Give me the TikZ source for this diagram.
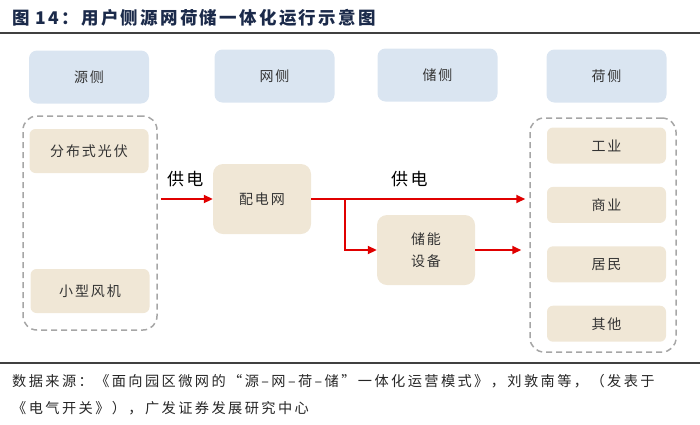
\documentclass[tikz,border=0pt]{standalone}
\usepackage{fontspec}
\setmainfont{Noto Sans CJK SC}
\newfontfamily\cjkwide[LetterSpace=14]{Noto Sans CJK SC}
\newfontfamily\cjktitle[LetterSpace=13]{Noto Sans CJK SC}
\newfontfamily\cjknote[LetterSpace=17]{Noto Sans CJK SC}
\usetikzlibrary{arrows.meta, positioning, calc}
\definecolor{headblue}{HTML}{DAE5F1}
\definecolor{itembeige}{HTML}{F0E7D6}
\definecolor{dashgray}{HTML}{A6A6A6}
\definecolor{flowred}{HTML}{E00000}
\definecolor{titlenavy}{HTML}{1B2A4A}
\definecolor{textgray}{HTML}{333333}

\begin{document}
\begin{tikzpicture}[
    x=1pt, y=-1pt,
    node distance=23pt,
    head/.style={rectangle, fill=headblue, rounded corners=8pt, minimum width=120pt, minimum height=53pt, align=center, text=textgray, font=\cjkwide\fontsize{14}{22}\selectfont},
    item/.style={rectangle, fill=itembeige, rounded corners=6pt, minimum width=119pt, minimum height=36pt, align=center, text=textgray, font=\cjkwide\fontsize{14}{22}\selectfont},
    hub/.style={item, minimum width=98pt, minimum height=70pt, rounded corners=10pt},
    group/.style={rectangle, draw=dashgray, dash pattern=on 6pt off 4pt, line width=1.5pt, rounded corners=14pt},
    flow/.style={-{Triangle[length=9pt, width=8pt]}, draw=flowred, line width=1.9pt},
    tag/.style={text=black, font=\cjkwide\fontsize{17}{20}\selectfont},
    note/.style={anchor=west, inner sep=0pt, text=black!85, font=\cjknote\fontsize{14.2}{16}\selectfont}
]
\useasboundingbox (0,0) rectangle (700,424);

% title and rules
\node[anchor=west, inner sep=0pt, text=titlenavy, font=\cjktitle\bfseries\fontsize{17.5}{20}\selectfont] (title) at (12,18) {图\hspace{6pt}14：用户侧源网荷储一体化运行示意图};
\draw[line width=1.8pt, black!75] (0,33) -- (700,33);
\draw[line width=1.8pt, black!75] (0,363) -- (700,363);

% column heads
\node[head] (srchead) at (89,77) {源侧};
\node[head] (gridhead) at (274.5,76) {网侧};
\node[head] (storhead) at (437.5,75) {储侧};
\node[head] (loadhead) at (606.5,76) {荷侧};

% source side
\node[item, minimum height=44pt] (pv) at (89,151) {分布式光伏};
\node[item, minimum height=44pt] (wind) at (90,291) {小型风机};
\node[group, minimum width=134pt, minimum height=214pt] (srcgrp) at (90,223) {};

% grid and storage
\node[hub] (grid) at (262,199) {配电网};
\node[hub] (storage) at (426,250) {储能\\设备};

% load side
\node[item] (industry) at (606.5,145.5) {工业};
\node[item, below=of industry] (commerce) {商业};
\node[item, below=of commerce] (resident) {居民};
\node[item, below=of resident] (others) {其他};
\node[group, minimum width=146pt, minimum height=234pt] (loadgrp) at (603,235) {};

% flows
\coordinate (branch) at ($(grid.east)+(34,0)$);
\draw[flow, shorten <=3pt] (grid.west -| srcgrp.east) -- node[tag, above=8pt] {供电} (grid.west);
\draw[flow, shorten >=4pt] (grid.east) -- node[tag, above=8pt, pos=0.45] {供电} (grid.east -| loadgrp.west);
\draw[flow] (branch) |- (storage.west);
\draw[flow, shorten >=8pt] (storage.east) -- (storage.east -| loadgrp.west);

% source note
\node[note] (src1) at (12,381) {数据来源：《面向园区微网的“源–网–荷–储”一体化运营模式》，刘敦南等，（发表于};
\node[note] (src2) at (12,408) {《电气开关》），广发证券发展研究中心};
\end{tikzpicture}
\end{document}
